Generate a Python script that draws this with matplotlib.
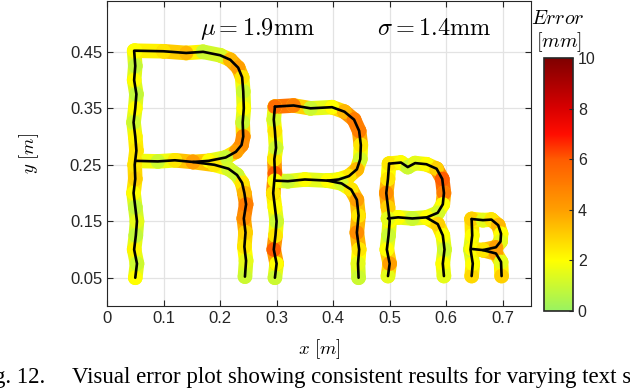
import matplotlib
matplotlib.use('Agg')
import matplotlib.pyplot as plt
import numpy as np
from matplotlib.collections import LineCollection
from matplotlib.colors import LinearSegmentedColormap, Normalize
from matplotlib.cm import ScalarMappable

plt.rcParams['font.family'] = ['Liberation Sans', 'DejaVu Sans']
plt.rcParams['mathtext.fontset'] = 'cm'

# --- reference letters (x, y in m) and error along them (mm) ---
# big R
r1_stem_x = [0.050, 0.053, 0.048, 0.051, 0.053, 0.050, 0.047, 0.050, 0.049, 0.052, 0.050, 0.047, 0.050, 0.052, 0.048, 0.050, 0.048]
r1_stem_y = [0.050, 0.075, 0.100, 0.125, 0.150, 0.175, 0.200, 0.225, 0.250, 0.275, 0.300, 0.325, 0.350, 0.375, 0.400, 0.425, 0.452]
r1_stem_e = [2.0, 1.0, 2.2, 0.8, 1.5, 0.8, 2.0, 3.0, 2.6, 2.5, 2.2, 1.0, 2.0, 0.8, 2.0, 0.8, 2.0]
r1_bowl_x = [0.050, 0.100, 0.140, 0.170, 0.200, 0.218, 0.232, 0.239, 0.241, 0.242, 0.240, 0.241, 0.238, 0.228, 0.210, 0.180, 0.152, 0.120, 0.090, 0.050]
r1_bowl_y = [0.452, 0.451, 0.448, 0.450, 0.444, 0.436, 0.422, 0.405, 0.380, 0.350, 0.325, 0.300, 0.285, 0.273, 0.263, 0.257, 0.255, 0.258, 0.256, 0.257]
r1_bowl_e = [2.0, 2.6, 3.5, 1.0, 1.2, 3.5, 4.0, 2.5, 1.0, 2.0, 1.0, 4.5, 4.5, 4.0, 1.0, 2.0, 4.0, 2.5, 1.0, 2.5]
r1_leg_x = [0.152, 0.190, 0.215, 0.230, 0.239, 0.243, 0.246, 0.242, 0.245, 0.243, 0.246, 0.244]
r1_leg_y = [0.255, 0.250, 0.243, 0.232, 0.218, 0.200, 0.180, 0.155, 0.130, 0.105, 0.080, 0.052]
r1_leg_e = [4.0, 2.5, 1.2, 1.0, 2.5, 3.5, 5.0, 4.5, 3.0, 2.5, 1.5, 1.0]

# second R
r2_stem_x = [0.297, 0.300, 0.295, 0.298, 0.300, 0.297, 0.294, 0.297, 0.296, 0.299, 0.297, 0.295, 0.297]
r2_stem_y = [0.050, 0.075, 0.100, 0.125, 0.150, 0.175, 0.200, 0.235, 0.260, 0.280, 0.310, 0.330, 0.353]
r2_stem_e = [1.0, 2.0, 6.0, 2.5, 1.0, 2.0, 2.5, 6.0, 2.5, 1.0, 2.5, 1.2, 2.0]
r2_bowl_x = [0.297, 0.330, 0.360, 0.398, 0.420, 0.437, 0.446, 0.449, 0.448, 0.442, 0.428, 0.410, 0.390, 0.350, 0.320, 0.297]
r2_bowl_y = [0.353, 0.355, 0.350, 0.352, 0.344, 0.330, 0.310, 0.285, 0.260, 0.242, 0.230, 0.224, 0.222, 0.224, 0.221, 0.222]
r2_bowl_e = [5.5, 5.0, 1.0, 2.0, 3.5, 5.0, 5.0, 2.5, 1.2, 3.5, 2.5, 2.0, 1.0, 2.0, 1.0, 2.0]
r2_leg_x = [0.390, 0.415, 0.432, 0.442, 0.445, 0.442, 0.446, 0.444, 0.445]
r2_leg_y = [0.222, 0.217, 0.206, 0.188, 0.160, 0.130, 0.100, 0.075, 0.050]
r2_leg_e = [2.0, 1.2, 2.5, 4.0, 2.5, 4.5, 2.5, 1.5, 1.0]

# third R
r3_stem_x = [0.497, 0.500, 0.495, 0.498, 0.500, 0.497, 0.494, 0.497, 0.499]
r3_stem_y = [0.053, 0.075, 0.100, 0.125, 0.150, 0.175, 0.200, 0.225, 0.252]
r3_stem_e = [1.5, 4.0, 2.0, 1.0, 2.0, 3.0, 4.5, 2.5, 1.5]
r3_bowl_x = [0.499, 0.520, 0.532, 0.545, 0.565, 0.583, 0.593, 0.596, 0.594, 0.585, 0.566, 0.540, 0.515, 0.497]
r3_bowl_y = [0.252, 0.254, 0.246, 0.253, 0.251, 0.243, 0.225, 0.200, 0.180, 0.165, 0.157, 0.155, 0.157, 0.155]
r3_bowl_e = [2.5, 2.0, 1.0, 1.5, 2.0, 3.0, 6.0, 5.0, 2.0, 1.2, 2.0, 1.0, 2.0, 1.5]
r3_leg_x = [0.566, 0.585, 0.594, 0.597, 0.594, 0.596]
r3_leg_y = [0.156, 0.145, 0.125, 0.100, 0.075, 0.053]
r3_leg_e = [2.0, 3.0, 2.0, 1.0, 2.0, 1.5]

# small R
r4_stem_x = [0.645, 0.647, 0.643, 0.646, 0.645]
r4_stem_y = [0.053, 0.075, 0.100, 0.125, 0.154]
r4_stem_e = [2.8, 2.0, 1.0, 2.0, 3.0]
r4_bowl_x = [0.645, 0.665, 0.680, 0.692, 0.697, 0.696, 0.688, 0.665, 0.645]
r4_bowl_y = [0.154, 0.152, 0.153, 0.143, 0.128, 0.114, 0.104, 0.099, 0.101]
r4_bowl_e = [3.0, 1.5, 2.5, 3.5, 2.0, 1.5, 4.0, 2.5, 2.0]
r4_leg_x = [0.665, 0.688, 0.697, 0.698]
r4_leg_y = [0.099, 0.093, 0.078, 0.053]
r4_leg_e = [2.5, 4.0, 1.5, 3.0]

strokes = [
    (r1_stem_x, r1_stem_y, r1_stem_e), (r1_bowl_x, r1_bowl_y, r1_bowl_e), (r1_leg_x, r1_leg_y, r1_leg_e),
    (r2_stem_x, r2_stem_y, r2_stem_e), (r2_bowl_x, r2_bowl_y, r2_bowl_e), (r2_leg_x, r2_leg_y, r2_leg_e),
    (r3_stem_x, r3_stem_y, r3_stem_e), (r3_bowl_x, r3_bowl_y, r3_bowl_e), (r3_leg_x, r3_leg_y, r3_leg_e),
    (r4_stem_x, r4_stem_y, r4_stem_e), (r4_bowl_x, r4_bowl_y, r4_bowl_e), (r4_leg_x, r4_leg_y, r4_leg_e),
]

mu_mm = 1.9
sigma_mm = 1.4

# colormap green -> yellow -> orange -> red -> dark red
cmap = LinearSegmentedColormap.from_list('err', [
    (0.0, (0.60, 0.95, 0.38)),
    (0.2, (1.0, 1.0, 0.0)),
    (0.4, (1.0, 0.62, 0.0)),
    (0.6, (1.0, 0.36, 0.0)),
    (0.7, (1.0, 0.05, 0.0)),
    (0.8, (0.85, 0.0, 0.0)),
    (1.0, (0.50, 0.0, 0.0)),
])
norm = Normalize(0, 10)

fig = plt.figure(figsize=(6.3, 3.9), dpi=100)
ax = fig.add_axes([107/630, 1-306/390, 424/630, 305/390])

for xs, ys, es in strokes:
    pts = np.column_stack([xs, ys])
    segs = np.stack([pts[:-1], pts[1:]], axis=1)
    es = np.asarray(es)
    lc = LineCollection(segs, cmap=cmap, norm=norm, linewidths=10.5, capstyle='round', zorder=2)
    lc.set_array((es[:-1] + es[1:]) / 2)
    ax.add_collection(lc)
    ax.scatter(xs, ys, c=es, cmap=cmap, norm=norm, s=110, linewidths=0, zorder=3)
for xs, ys, es in strokes:
    ax.plot(xs, ys, color='k', lw=1.9, zorder=4, solid_capstyle='round')

ax.text(0.267, 0.49, r'$\mu = %.1f\mathrm{mm}$' % mu_mm, ha='center', va='center', fontsize=17.5)
ax.text(0.578, 0.49, r'$\sigma = %.1f\mathrm{mm}$' % sigma_mm, ha='center', va='center', fontsize=17.5)

ax.set_xlim(0, 0.75)
ax.set_ylim(0, 0.54)
ax.set_xticks([0, 0.1, 0.2, 0.3, 0.4, 0.5, 0.6, 0.7])
ax.set_xticklabels(['0', '0.1', '0.2', '0.3', '0.4', '0.5', '0.6', '0.7'])
ax.set_yticks([0.05, 0.15, 0.25, 0.35, 0.45])
ax.grid(True, color='#e3e3e3', lw=0.9)
ax.set_axisbelow(True)
ax.tick_params(direction='in', length=4, top=True, right=True, labelsize=12, colors='#262626', width=0.8)
for s in ax.spines.values():
    s.set_color('#262626')
    s.set_linewidth(0.8)
ax.set_xlabel(r'$x\ [m]$', fontsize=13.5, labelpad=8)
ax.set_ylabel(r'$y\ [m]$', fontsize=13.5, labelpad=21)

cax = fig.add_axes([544/630, 1-311/390, 29/630, 253/390])
cb = fig.colorbar(ScalarMappable(norm=norm, cmap=cmap), cax=cax, ticks=[0, 2, 4, 6, 8, 10])
cb.ax.tick_params(direction='in', length=3, labelsize=11.5, colors='#262626')
cb.outline.set_linewidth(1.2)
cb.outline.set_edgecolor('#262626')
fig.text(558/630, 1-18/390, r'$Error$', ha='center', va='center', fontsize=14.5)
fig.text(559/630, 1-42/390, r'$[mm]$', ha='center', va='center', fontsize=14.5)

# caption (cut at both figure edges, as in the source page)
fig.text(45/630, 1-377/390, 'Fig. 12.', ha='right', va='center', family='Liberation Serif', fontsize=16.5)
fig.text(72/630, 1-377/390, 'Visual error plot showing consistent results for varying text sizes.',
         ha='left', va='center', family='Liberation Serif', fontsize=16.5)

fig.savefig('out.png', dpi=100)
